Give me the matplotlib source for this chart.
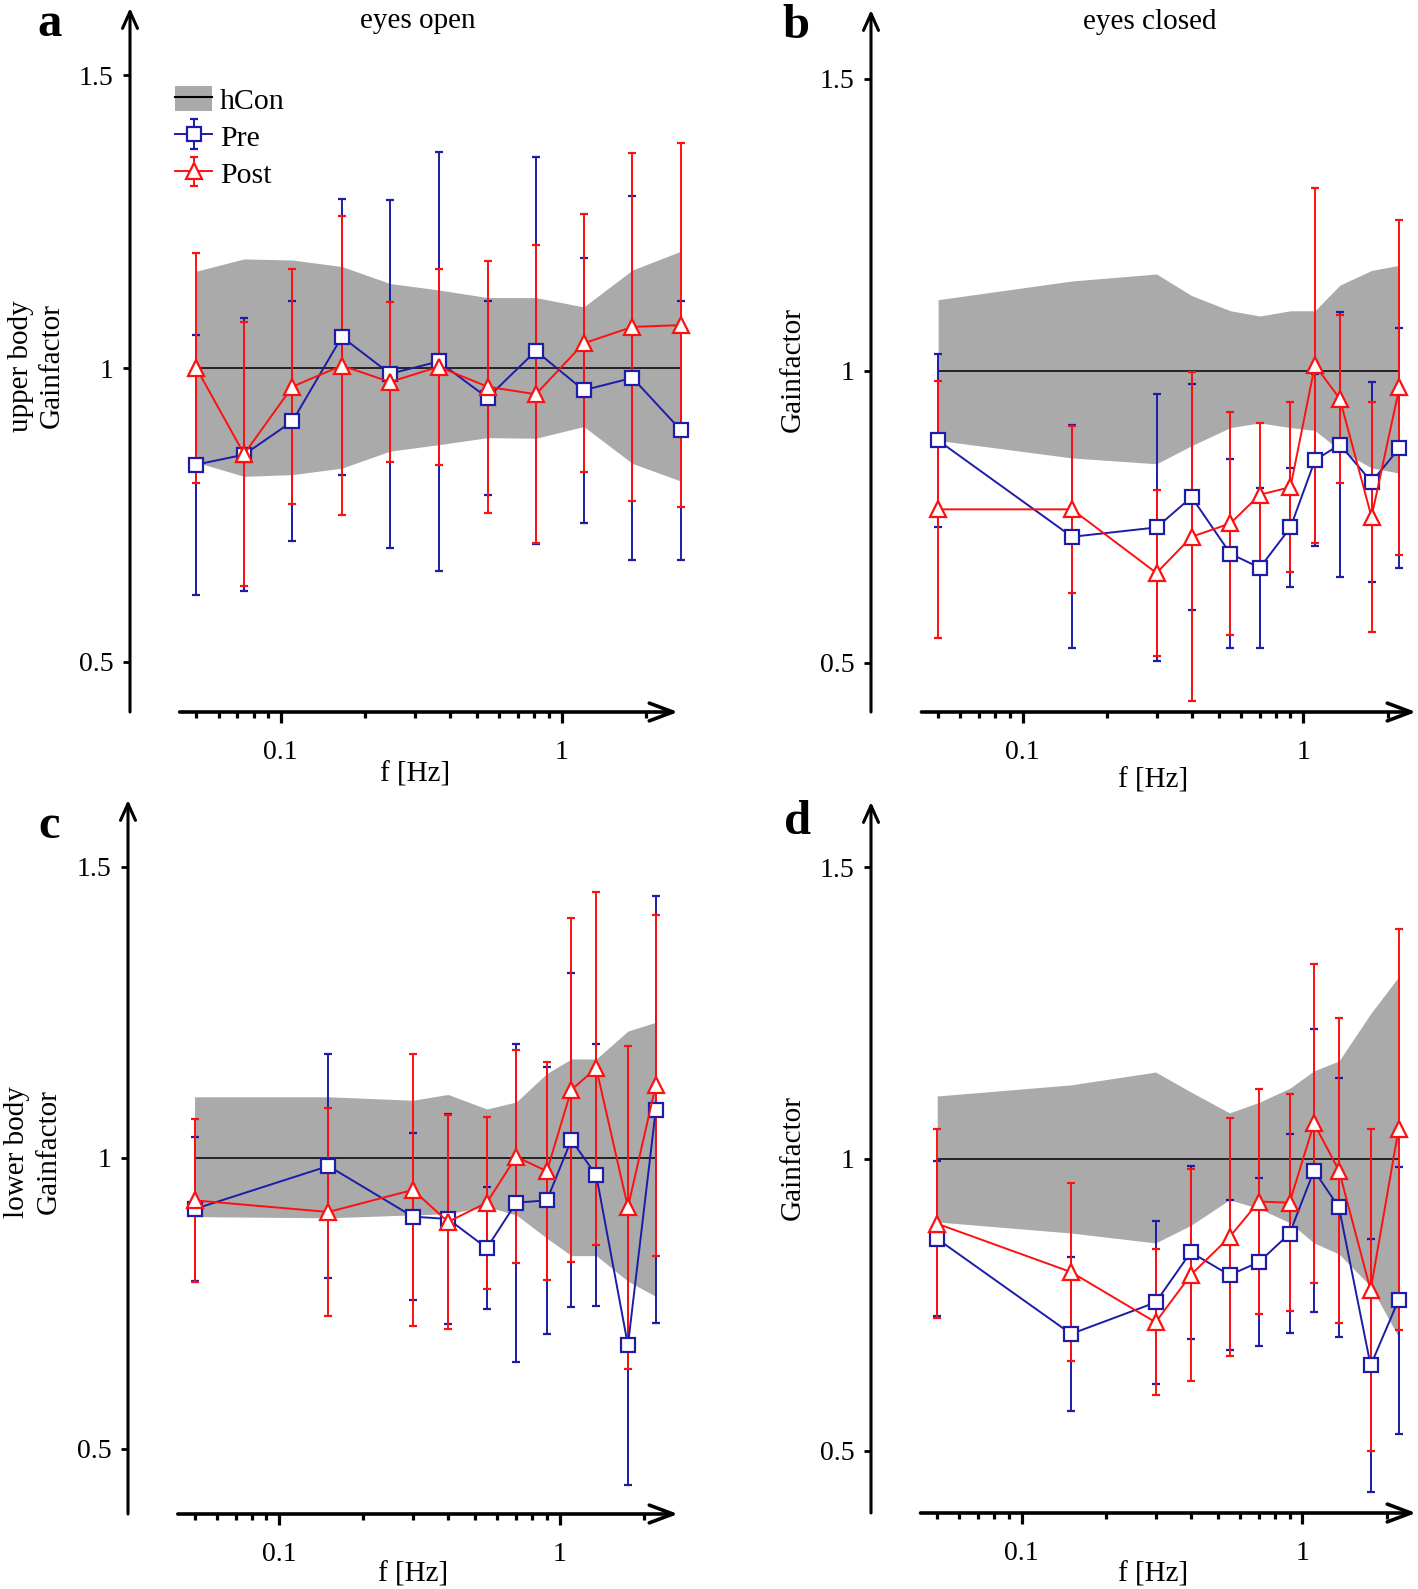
import numpy as np
import matplotlib
matplotlib.use('Agg')
import matplotlib.pyplot as plt
from matplotlib.patches import Patch
from matplotlib.lines import Line2D

plt.rcParams['font.family'] = ['Liberation Serif', 'DejaVu Serif']

W, H, DPI = 1418, 1589, 100

# stimulus frequencies [Hz]
freq_a = [0.05, 0.074, 0.11, 0.165, 0.245, 0.365, 0.545, 0.81, 1.2, 1.79, 2.66]
freq_bcd = [0.05, 0.15, 0.3, 0.4, 0.55, 0.7, 0.9, 1.1, 1.35, 1.75, 2.2]

# a: upper body, eyes open
a_pre = [0.836, 0.853, 0.910, 1.054, 0.991, 1.012, 0.950, 1.030, 0.963, 0.984, 0.895]
a_pre_err = [0.222, 0.233, 0.205, 0.236, 0.297, 0.357, 0.166, 0.330, 0.226, 0.311, 0.221]
a_post = [1.001, 0.854, 0.969, 1.005, 0.977, 1.003, 0.969, 0.956, 1.043, 1.071, 1.074]
a_post_err = [0.196, 0.225, 0.201, 0.255, 0.137, 0.167, 0.215, 0.254, 0.220, 0.297, 0.311]
a_hi = [1.166, 1.187, 1.185, 1.174, 1.145, 1.134, 1.121, 1.121, 1.105, 1.168, 1.200]
a_lo = [0.840, 0.816, 0.819, 0.830, 0.859, 0.870, 0.882, 0.881, 0.901, 0.838, 0.808]

# b: upper body, eyes closed
b_pre = [0.881, 0.716, 0.732, 0.784, 0.687, 0.663, 0.732, 0.847, 0.874, 0.810, 0.868]
b_pre_err = [0.148, 0.191, 0.229, 0.193, 0.162, 0.137, 0.102, 0.147, 0.227, 0.171, 0.206]
b_post = [0.763, 0.763, 0.654, 0.716, 0.739, 0.788, 0.801, 1.010, 0.952, 0.750, 0.972]
b_post_err = [0.220, 0.143, 0.142, 0.282, 0.191, 0.123, 0.145, 0.304, 0.144, 0.197, 0.287]
b_hi = [1.122, 1.154, 1.166, 1.129, 1.103, 1.094, 1.103, 1.103, 1.147, 1.172, 1.181]
b_lo = [0.881, 0.851, 0.841, 0.872, 0.903, 0.911, 0.903, 0.898, 0.864, 0.834, 0.825]

# c: lower body, eyes open
c_pre = [0.912, 0.986, 0.899, 0.895, 0.845, 0.923, 0.927, 1.031, 0.970, 0.678, 1.083]
c_pre_err = [0.124, 0.192, 0.143, 0.181, 0.105, 0.273, 0.229, 0.287, 0.225, 0.241, 0.367]
c_post = [0.927, 0.907, 0.945, 0.890, 0.923, 1.002, 0.977, 1.117, 1.154, 0.915, 1.125]
c_post_err = [0.140, 0.178, 0.234, 0.184, 0.148, 0.183, 0.187, 0.296, 0.303, 0.278, 0.293]
c_hi = [1.105, 1.105, 1.099, 1.109, 1.084, 1.096, 1.145, 1.170, 1.170, 1.218, 1.233]
c_lo = [0.899, 0.897, 0.902, 0.904, 0.916, 0.902, 0.862, 0.832, 0.832, 0.788, 0.762]

# d: lower body, eyes closed
d_pre = [0.863, 0.700, 0.754, 0.840, 0.801, 0.823, 0.872, 0.980, 0.917, 0.646, 0.758]
d_pre_err = [0.133, 0.132, 0.139, 0.148, 0.128, 0.144, 0.171, 0.242, 0.222, 0.217, 0.229]
d_post = [0.889, 0.806, 0.720, 0.801, 0.866, 0.927, 0.925, 1.061, 0.980, 0.775, 1.051]
d_post_err = [0.162, 0.152, 0.125, 0.182, 0.204, 0.193, 0.186, 0.273, 0.262, 0.276, 0.344]
d_hi = [1.108, 1.127, 1.149, 1.115, 1.079, 1.097, 1.121, 1.151, 1.168, 1.249, 1.312]
d_lo = [0.892, 0.873, 0.856, 0.886, 0.930, 0.915, 0.891, 0.856, 0.837, 0.782, 0.695]

BLUE = '#1c1ca8'
RED = '#ff1010'
GREY = '#aaaaaa'
DEC = 280.7  # pixels per decade

fig = plt.figure(figsize=(W / DPI, H / DPI), dpi=DPI)

# pixel layout: left, right, x of 0.1, top, bottom, ylim
panels = [
    dict(L=130, R=690, P=280.8, T=8, B=712, yl=(0.414, 1.615), f=freq_a,
         pre=a_pre, pe=a_pre_err, post=a_post, qe=a_post_err, hi=a_hi, lo=a_lo),
    dict(L=871, R=1418, P=1022.6, T=10, B=712, yl=(0.416, 1.618), f=freq_bcd,
         pre=b_pre, pe=b_pre_err, post=b_post, qe=b_post_err, hi=b_hi, lo=b_lo),
    dict(L=128, R=690, P=279, T=800, B=1514, yl=(0.388, 1.615), f=freq_bcd,
         pre=c_pre, pe=c_pre_err, post=c_post, qe=c_post_err, hi=c_hi, lo=c_lo),
    dict(L=871, R=1418, P=1021.7, T=802, B=1513, yl=(0.393, 1.612), f=freq_bcd,
         pre=d_pre, pe=d_pre_err, post=d_post, qe=d_post_err, hi=d_hi, lo=d_lo),
]

minor = [0.05, 0.06, 0.07, 0.08, 0.09, 0.2, 0.3, 0.4, 0.5, 0.6, 0.7, 0.8, 0.9, 2]
axes = []
for p in panels:
    ax = fig.add_axes([p['L'] / W, 1 - p['B'] / H, (p['R'] - p['L']) / W, (p['B'] - p['T']) / H])
    ax.set_xscale('log')
    x0 = 10 ** (-1 - (p['P'] - p['L']) / DEC)
    x1 = 10 ** (-1 + (p['R'] - p['P']) / DEC)
    ax.set_xlim(x0, x1)
    ax.set_ylim(*p['yl'])
    for s in ax.spines.values():
        s.set_visible(False)
    ax.patch.set_alpha(0)

    f = p['f']
    ax.fill_between(f, p['lo'], p['hi'], color=GREY, lw=0, zorder=1)
    ax.plot([f[0], f[-1]], [1, 1], color='k', lw=1.1, zorder=2)
    eb1 = ax.errorbar(f, p['pre'], yerr=p['pe'], color=BLUE, lw=1.4, marker='s', ms=10,
                      mfc='white', mec=BLUE, mew=1.6, capsize=3, capthick=1.4, zorder=3)
    eb2 = ax.errorbar(f, p['post'], yerr=p['qe'], color=RED, lw=1.4, marker='^', ms=11.5,
                      mfc='white', mec=RED, mew=1.6, capsize=3, capthick=1.4, zorder=4)
    eb1[0].set_zorder(5)
    eb2[0].set_zorder(6)

    ax.set_xticks([0.1, 1])
    ax.set_xticklabels(['0.1', '1'])
    ax.set_xticks(minor, minor=True)
    ax.set_xticklabels([], minor=True)
    ax.set_yticks([0.5, 1, 1.5])
    ax.set_yticklabels(['0.5', '1', '1.5'])
    ax.tick_params(axis='x', which='major', direction='out', length=8, width=2.3, pad=12, labelsize=20)
    ax.tick_params(axis='x', which='minor', direction='out', length=4.5, width=2.3)
    ax.tick_params(axis='y', direction='out', length=5, width=2, pad=7, labelsize=20)

    ymin, ymax = p['yl']
    xtip = 10 ** (-1 + (p['R'] - 12 - p['P']) / DEC) if p['R'] < 1000 else 10 ** (-1 + (1416 - p['P']) / DEC)
    ax.annotate('', xy=(xtip, ymin), xytext=(0.0436, ymin), xycoords='data',
                annotation_clip=False,
                arrowprops=dict(arrowstyle='->,head_length=0.85,head_width=0.32', lw=2.6,
                                color='k', mutation_scale=20, shrinkA=0, shrinkB=0))
    ax.annotate('', xy=(x0, ymax), xytext=(x0, ymin), xycoords='data',
                annotation_clip=False,
                arrowprops=dict(arrowstyle='->,head_length=0.6,head_width=0.27', lw=2.2,
                                color='k', mutation_scale=20, shrinkA=0, shrinkB=0))
    axes.append((ax, eb1, eb2))


def ftext(x, y, s, **kw):
    fig.text(x / W, 1 - y / H, s, **kw)


# panel letters
for x, y, s in [(50, 24, 'a'), (796, 26, 'b'), (49, 826, 'c'), (798, 822, 'd')]:
    ftext(x, y, s, fontsize=35, fontweight='bold', ha='center', va='center')

ftext(418, 21, 'eyes open', fontsize=21, ha='center', va='center')
ftext(1150, 22, 'eyes closed', fontsize=21, ha='center', va='center')

for x, y in [(415, 774), (1153, 781), (413, 1574), (1153, 1574)]:
    ftext(x, y, 'f [Hz]', fontsize=21, ha='center', va='center')

ftext(36, 366, 'upper body\nGainfactor', fontsize=21, rotation=90, ha='center', va='center',
      linespacing=1.25)
ftext(33, 1152, 'lower body\nGainfactor', fontsize=21, rotation=90, ha='center', va='center',
      linespacing=1.25)
ftext(793, 370, 'Gainfactor', fontsize=21, rotation=90, ha='center', va='center')
ftext(793, 1158, 'Gainfactor', fontsize=21, rotation=90, ha='center', va='center')

# legend in panel a
ax, eb1, eb2 = axes[0]
h_con = (Patch(facecolor=GREY, edgecolor='none'), Line2D([], [], color='k', lw=1.5))
ax.legend([h_con, eb1, eb2], ['hCon', 'Pre', 'Post'], loc='upper left',
          bbox_to_anchor=(175 / W, 1 - 86 / H), bbox_transform=fig.transFigure,
          frameon=False, fontsize=21.5, handlelength=1.25, handleheight=0.9, handletextpad=0.25,
          labelspacing=0.28, borderpad=0, borderaxespad=0)

fig.savefig('out.png', dpi=DPI)
